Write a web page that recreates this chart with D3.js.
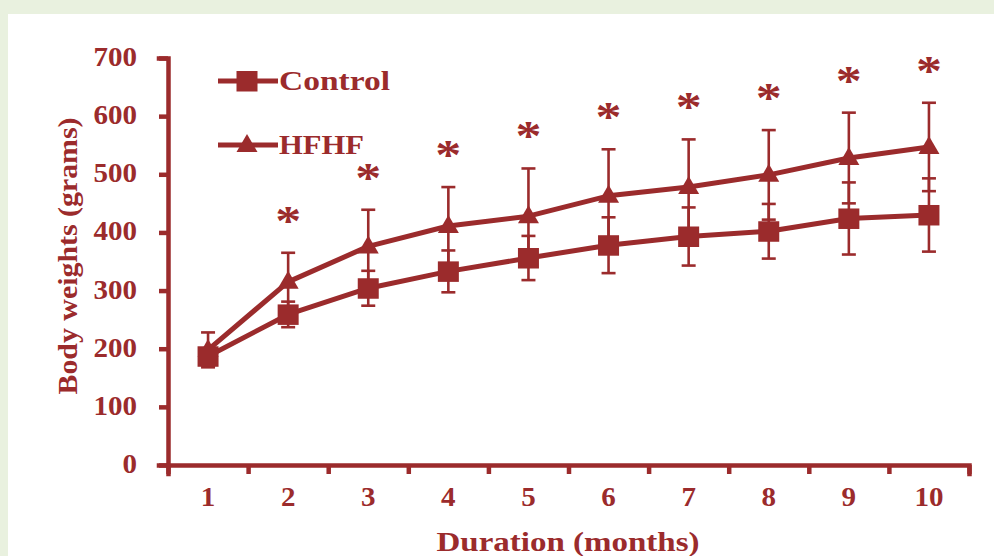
<!DOCTYPE html>
<html>
<head>
<meta charset="utf-8">
<script src="https://cdn.jsdelivr.net/npm/d3@7"></script>
<style>
  html, body { margin: 0; padding: 0; background: #e9f1df; }
  svg { display: block; }
  text { font-family: "Liberation Serif", "Times New Roman", serif; font-weight: bold; fill: #9b2b2c; }
</style>
</head>
<body>
<div id="okvir"></div>
<script>
// podaci
const months = [1, 2, 3, 4, 5, 6, 7, 8, 9, 10]
const control = [187, 259, 304, 333, 356, 378, 393, 402, 424, 430]
const controlSd = [8, 22, 30, 36, 38, 48, 50, 47, 62, 63]
const hfhf = [198, 315, 376, 411, 428, 463, 478, 499, 528, 547]
const hfhfSd = [30, 50, 63, 67, 82, 80, 82, 77, 78, 76]
const significant = [false, true, true, true, true, true, true, true, true, true]
const yTicks = [0, 100, 200, 300, 400, 500, 600, 700]
const seriesNames = ["Control", "HFHF"]

const boja = "#9b2b2c"

const dim = { sirina: 994, visina: 556 }

const okvir = d3.select("#okvir")
  .append("svg")
  .attr("width", dim.sirina)
  .attr("height", dim.visina)

okvir.append("rect")
  .attr("x", 8).attr("y", 14)
  .attr("width", dim.sirina - 8).attr("height", dim.visina - 14)
  .attr("fill", "#ffffff")

const x = d3.scaleLinear().domain([0.5, 10.5]).range([168, 969])
const y = d3.scaleLinear().domain([0, 700]).range([465, 58])

// osi
const yOs = okvir.append("g")
  .attr("transform", `translate(${x(0.5)},0)`)
  .call(d3.axisLeft(y).tickValues(yTicks).tickSize(9).tickPadding(0))

yOs.selectAll("text")
  .attr("x", -31)
  .attr("dy", "0.28em")
  .attr("font-size", 27)
  .attr("textLength", d => String(d).length * 14.5)
  .attr("lengthAdjust", "spacingAndGlyphs")

const xOs = okvir.append("g")
  .attr("transform", `translate(0,${y(0)})`)
  .call(d3.axisBottom(x).tickValues(d3.range(0.5, 11, 1)).tickSize(9).tickFormat(""))

okvir.selectAll(".domain, .tick line")
  .attr("stroke", boja)
  .attr("stroke-width", 4.5)
okvir.selectAll(".domain").attr("stroke-linecap", "square")
okvir.selectAll(".tick text").attr("fill", boja)

okvir.append("g")
  .selectAll("text")
  .data(months)
  .join("text")
  .attr("x", d => x(d))
  .attr("y", y(0) + 41)
  .attr("text-anchor", "middle")
  .attr("font-size", 27)
  .attr("textLength", d => String(d).length * 14.5)
  .attr("lengthAdjust", "spacingAndGlyphs")
  .text(d => d)

okvir.append("text")
  .attr("x", 568)
  .attr("y", 551)
  .attr("text-anchor", "middle")
  .attr("font-size", 27)
  .attr("textLength", 263)
  .attr("lengthAdjust", "spacingAndGlyphs")
  .text("Duration (months)")

okvir.append("text")
  .attr("transform", "translate(77,256) rotate(-90)")
  .attr("text-anchor", "middle")
  .attr("font-size", 28)
  .attr("textLength", 277)
  .attr("lengthAdjust", "spacingAndGlyphs")
  .text("Body weights (grams)")

// error barovi
const serije = [
  { ime: seriesNames[1], vr: hfhf, sd: hfhfSd, oblik: "triangle" },
  { ime: seriesNames[0], vr: control, sd: controlSd, oblik: "square" },
]

const graf = okvir.append("g")
const kapa = 7

serije.forEach(s => {
  const g = graf.append("g")
  months.forEach((m, i) => {
    const cx = x(m)
    const gore = y(s.vr[i] + s.sd[i])
    const dolje = y(s.vr[i] - s.sd[i])
    g.append("line").attr("x1", cx).attr("x2", cx).attr("y1", gore).attr("y2", dolje)
    g.append("line").attr("x1", cx - kapa).attr("x2", cx + kapa).attr("y1", gore).attr("y2", gore)
    g.append("line").attr("x1", cx - kapa).attr("x2", cx + kapa).attr("y1", dolje).attr("y2", dolje)
  })
  g.selectAll("line").attr("stroke", boja).attr("stroke-width", 2.6)
})

const linija = d3.line()
  .x((d, i) => x(months[i]))
  .y(d => y(d))

serije.forEach(s => {
  graf.append("path")
    .attr("d", linija(s.vr))
    .attr("fill", "none")
    .attr("stroke", boja)
    .attr("stroke-width", 5)
    .attr("stroke-linejoin", "round")
})

function crtajOblik(g, oblik, cx, cy) {
  if (oblik == "square") {
    g.append("rect")
      .attr("x", cx - 10.5).attr("y", cy - 10)
      .attr("width", 21).attr("height", 20.5)
      .attr("fill", boja)
  } else {
    g.append("path")
      .attr("d", `M${cx},${cy - 11} L${cx + 10.5},${cy + 7} L${cx - 10.5},${cy + 7} Z`)
      .attr("fill", boja)
  }
}

serije.forEach(s => {
  const g = graf.append("g")
  months.forEach((m, i) => crtajOblik(g, s.oblik, x(m), y(s.vr[i])))
})

// zvjezdice
graf.append("g")
  .selectAll("text")
  .data(months.filter((m, i) => significant[i]))
  .join("text")
  .attr("x", d => x(d))
  .attr("y", d => y(hfhf[d - 1] + hfhfSd[d - 1]) - 37 + 19)
  .attr("text-anchor", "middle")
  .attr("font-size", 42)
  .attr("textLength", 26)
  .attr("lengthAdjust", "spacingAndGlyphs")
  .text("*")

// legenda
const legenda = okvir.append("g")
serije.slice().reverse().forEach((s, i) => {
  const ly = 81 + i * 64
  legenda.append("line")
    .attr("x1", 218).attr("x2", 278).attr("y1", ly).attr("y2", ly)
    .attr("stroke", boja).attr("stroke-width", 5)
  crtajOblik(legenda, s.oblik, 247, ly)
  legenda.append("text")
    .attr("x", 279)
    .attr("y", ly + 9)
    .attr("font-size", 27)
    .attr("textLength", s.ime == "Control" ? 111 : 85)
    .attr("lengthAdjust", "spacingAndGlyphs")
    .text(s.ime)
})
</script>
</body>
</html>
